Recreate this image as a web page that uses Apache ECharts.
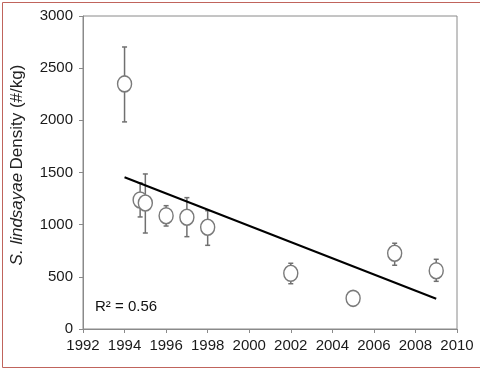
<!DOCTYPE html>
<html>
<head>
<meta charset="utf-8">
<script src="https://cdn.jsdelivr.net/npm/echarts@6/dist/echarts.min.js"></script>
<style>html,body{margin:0;padding:0;background:#fff}#c{width:480px;height:368px}</style>
</head>
<body>
<div id="c"></div>
<script>
// Data
var years    = [1994, 1994.75, 1995, 1996, 1997, 1998, 2002, 2005, 2007, 2009];
var density  = [2349, 1237, 1208, 1086, 1071, 975, 534, 294, 726, 559];
var errLow   = [1985, 1074, 920, 987, 885, 802, 434, null, 611, 457];
var errHigh  = [2703, 1400, 1486, 1182, 1259, 1134, 630, null, 822, 668];
var trendX   = [1994, 2009];
var trendY   = [1454, 290];
var xTicks   = [1992, 1994, 1996, 1998, 2000, 2002, 2004, 2006, 2008, 2010];
var yTicks   = [0, 500, 1000, 1500, 2000, 2500, 3000];
var rSquared = 'R² = 0.56';

var chart = echarts.init(document.getElementById('c'), null, {renderer: 'canvas'});
var errData = [];
for (var i = 0; i < years.length; i++) {
  if (errLow[i] != null) errData.push([years[i], errLow[i], errHigh[i]]);
}
var font = 'Liberation Sans, Arial, sans-serif';
chart.setOption({
  animation: false,
  grid: {left: 83, top: 16, right: 23, bottom: 39, show: true, borderColor: '#8a8a8a', borderWidth: 1},
  xAxis: {
    type: 'value', min: xTicks[0], max: xTicks[xTicks.length - 1], interval: 2,
    axisLine: {show: true, lineStyle: {color: '#8a8a8a'}},
    axisTick: {show: true, length: 4, lineStyle: {color: '#8a8a8a'}},
    splitLine: {show: false},
    axisLabel: {color: '#1a1a1a', fontSize: 15, fontFamily: font, margin: 9,
      formatter: function (v) { return String(v); }}
  },
  yAxis: {
    type: 'value', min: yTicks[0], max: yTicks[yTicks.length - 1], interval: 500,
    axisLine: {show: true, lineStyle: {color: '#8a8a8a'}},
    axisTick: {show: true, length: 4, lineStyle: {color: '#8a8a8a'}},
    splitLine: {show: false},
    axisLabel: {color: '#1a1a1a', fontSize: 15, fontFamily: font, margin: 10,
      formatter: function (v) { return String(v); }}
  },
  series: [
    {
      type: 'custom',
      z: 2,
      renderItem: function (params, api) {
        var x = api.value(0);
        var lo = api.coord([x, api.value(1)]);
        var hi = api.coord([x, api.value(2)]);
        var c = 2.5;
        var st = {stroke: '#707070', lineWidth: 1.5};
        return {type: 'group', children: [
          {type: 'line', shape: {x1: lo[0], y1: lo[1], x2: hi[0], y2: hi[1]}, style: st},
          {type: 'line', shape: {x1: lo[0] - c, y1: lo[1], x2: lo[0] + c, y2: lo[1]}, style: st},
          {type: 'line', shape: {x1: hi[0] - c, y1: hi[1], x2: hi[0] + c, y2: hi[1]}, style: st}
        ]};
      },
      data: errData
    },
    {
      type: 'line',
      z: 3,
      data: trendX.map(function (x, i) { return [x, trendY[i]]; }),
      showSymbol: false,
      lineStyle: {color: '#000', width: 2}
    },
    {
      type: 'scatter',
      z: 4,
      data: years.map(function (x, i) { return [x, density[i]]; }),
      symbol: 'circle',
      symbolSize: [14, 16],
      itemStyle: {color: '#fff', borderColor: '#7a7a7a', borderWidth: 1.5, opacity: 1}
    }
  ],
  graphic: [
    {type: 'rect', left: 0, top: 0, z: 100, silent: true,
     shape: {x: 0.5, y: 0.5, width: 478, height: 365},
     style: {fill: 'none', stroke: '#c0645c', lineWidth: 1}},
    {type: 'text', x: 95, y: 307, z: 10,
     style: {text: rSquared, fill: '#111', font: '15px ' + font, verticalAlign: 'middle', align: 'left'}},
    {type: 'text', x: 17, y: 165, rotation: Math.PI / 2, z: 10,
     style: {
       text: '{i|S. lindsayae} {n|Density (#/kg)}',
       align: 'center', verticalAlign: 'middle',
       rich: {
         i: {fontStyle: 'italic', fontSize: 17, fontFamily: font, fill: '#222', color: '#222'},
         n: {fontSize: 17, fontFamily: font, fill: '#222', color: '#222'}
       }
     }}
  ]
});
</script>
</body>
</html>
